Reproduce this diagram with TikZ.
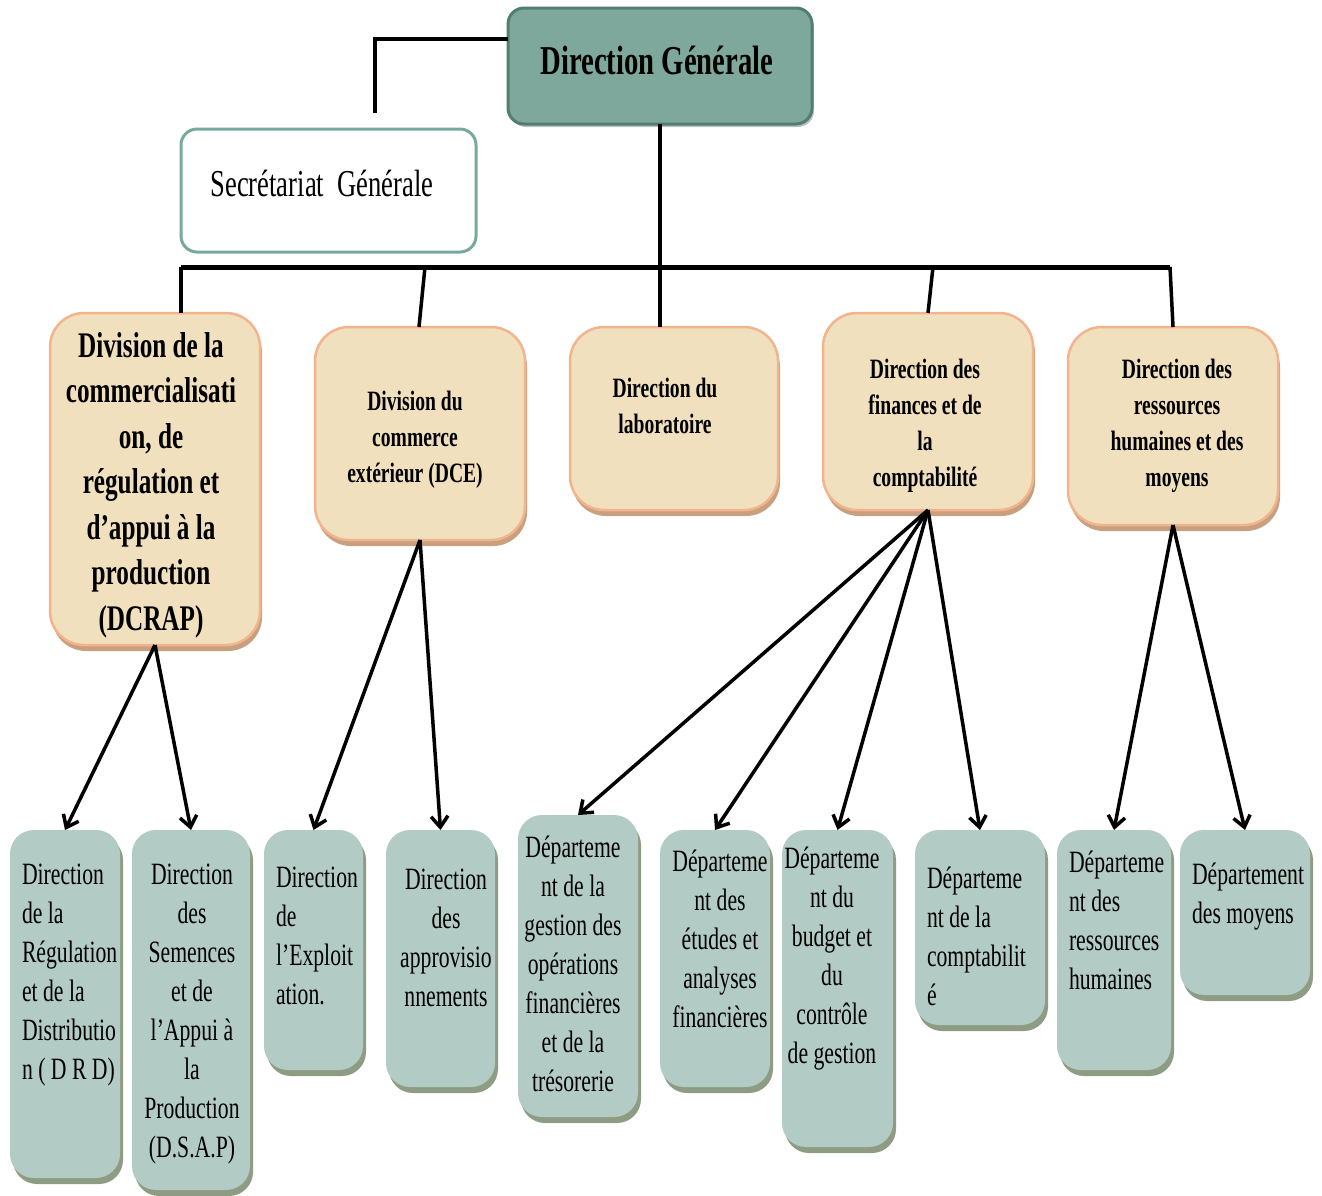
\documentclass[tikz,border=0pt]{standalone}
\usepackage{fontspec}
\setmainfont{Liberation Serif}[FakeStretch=0.7]
\usetikzlibrary{arrows.meta,shadows,calc}
\definecolor{dgfill}{HTML}{7EA89B}
\definecolor{dgline}{HTML}{507F72}
\definecolor{sgline}{HTML}{79A99C}
\definecolor{beige}{HTML}{F1E0BE}
\definecolor{peach}{HTML}{F2B48C}
\definecolor{beigeshadow}{HTML}{C8A07F}
\definecolor{sage}{HTML}{B2CBC4}
\definecolor{sageshadow}{HTML}{8E9C83}
\tikzset{
  base/.style={inner sep=0pt, outer sep=0pt},
  dgbox/.style={base, draw=dgline, line width=3pt, fill=dgfill, rounded corners=16pt,
    drop shadow={shadow xshift=2pt, shadow yshift=-3pt, fill=black, opacity=0.25}},
  sgbox/.style={base, draw=sgline, line width=3pt, fill=white, rounded corners=16pt},
  lvtwo/.style={base, draw=peach, line width=2.5pt, fill=beige, rounded corners=34pt,
    drop shadow={shadow xshift=2pt, shadow yshift=-6pt, fill=beigeshadow, opacity=1}},
  lvthree/.style={base, fill=sage, rounded corners=24pt,
    drop shadow={shadow xshift=3pt, shadow yshift=-6pt, fill=sageshadow, opacity=1}},
  dgtxt/.style={base, font=\bfseries\fontsize{41}{49}\selectfont},
  sgtxt/.style={base, font=\fontsize{38}{46}\selectfont},
  bigtxt/.style={base, align=center, font=\bfseries\fontsize{36}{45.5}\selectfont},
  midtxt/.style={base, align=center, font=\bfseries\fontsize{28}{36}\selectfont},
  smc/.style={base, align=center, font=\fontsize{31}{39}\selectfont},
  sml/.style={base, align=left, anchor=west, font=\fontsize{31}{39}\selectfont},
  conn/.style={line width=3.5pt, black},
  bus/.style={line width=5pt, black},
  arr/.style={line width=3.5pt, black, -{Straight Barb[length=11pt,width=17pt]}}
}
\begin{document}
\begin{tikzpicture}[x=1pt,y=-1pt]
\useasboundingbox (0,0) rectangle (1322,1195);
\fill[white] (0,0) rectangle (1322,1195);

% top level
\node[dgbox, minimum width=304pt, minimum height=116pt] (dg) at (660,66) {};
\node[dgtxt] (tdg) at (657,60) {Direction Générale};
\node[sgbox, minimum width=295pt, minimum height=123pt] (sg) at (328.5,190.5) {};
\node[sgtxt] (tsg) at (322,183) {Secrétariat~ Générale};

% level 2
\node[lvtwo, minimum width=210pt, minimum height=332pt] (dcrap) at (155,479) {};
\node[bigtxt] (tdcrap) at (151,485) {Division de la\\commercialisati\\on, de\\régulation et\\d’appui à la\\production\\(DCRAP)};
\node[lvtwo, minimum width=210pt, minimum height=213pt] (dce) at (420,433.5) {};
\node[midtxt] (tdce) at (415,440) {Division du\\commerce\\extérieur (DCE)};
\node[lvtwo, minimum width=208pt, minimum height=183pt] (labo) at (674,418.5) {};
\node[midtxt] (tlabo) at (665,406) {Direction du\\laboratoire};
\node[lvtwo, minimum width=210pt, minimum height=197pt] (fin) at (928,411.5) {};
\node[midtxt] (tfin) at (925,426) {Direction des\\finances et de\\la\\comptabilité};
\node[lvtwo, minimum width=210pt, minimum height=198pt] (rh) at (1173,426) {};
\node[midtxt] (trh) at (1177,426) {Direction des\\ressources\\humaines et des\\moyens};

% level 3
\node[lvthree, minimum width=110pt, minimum height=348pt] (drd) at (65,1004) {};
\node[sml] (tdrd) at (22,975) {Direction\\de la\\Régulation\\et de la\\Distributio\\n ( D R D)};
\node[lvthree, minimum width=118pt, minimum height=360pt] (dsap) at (191,1010) {};
\node[smc] (tdsap) at (192,1014) {Direction\\des\\Semences\\et de\\l’Appui à\\la\\Production\\(D.S.A.P)};
\node[lvthree, minimum width=99pt, minimum height=240pt] (expl) at (313.5,950) {};
\node[sml] (texpl) at (276,936) {Direction\\de\\l’Exploit\\ation.};
\node[lvthree, minimum width=109pt, minimum height=257pt] (appro) at (440.5,958.5) {};
\node[smc] (tappro) at (446,938) {Direction\\des\\approvisio\\nnements};
\node[lvthree, minimum width=120pt, minimum height=302pt] (gest) at (578,966) {};
\node[smc] (tgest) at (573,964) {Départeme\\nt de la\\gestion des\\opérations\\financières\\et de la\\trésorerie};
\node[lvthree, minimum width=110pt, minimum height=257pt] (etud) at (715,958.5) {};
\node[smc] (tetud) at (720,939) {Départeme\\nt des\\études et\\analyses\\financières};
\node[lvthree, minimum width=111pt, minimum height=317pt] (budg) at (837.5,988.5) {};
\node[smc] (tbudg) at (832,959) {Départeme\\nt du\\budget et\\du\\contrôle\\de gestion};
\node[lvthree, minimum width=130pt, minimum height=195pt] (compta) at (980,927.5) {};
\node[sml] (tcompta) at (927,936) {Départeme\\nt de la\\comptabilit\\é};
\node[lvthree, minimum width=114pt, minimum height=240pt] (drh) at (1114,950) {};
\node[sml] (tdrh) at (1069,920) {Départeme\\nt des\\ressources\\humaines};
\node[lvthree, minimum width=130pt, minimum height=165pt] (moy) at (1245,912.5) {};
\node[sml] (tmoy) at (1192,897) {Département\\des moyens};

% connectors top
\coordinate (sgtop) at (375,113);
\draw[conn] ([yshift=27pt]dg.west) -| (sgtop);
\coordinate (b1) at (181,267);
\coordinate (b2) at (425,267);
\coordinate (b3) at (660,267);
\coordinate (b4) at (933,267);
\coordinate (b5) at (1170,267);
\draw[bus] (b1) -- (b5);
\draw[conn] (dg.south) -- (b3) -- (b3 |- labo.north);
\draw[conn] (b1) -- (b1 |- dcrap.north);
\draw[conn] (b2) -- ([xshift=-1pt]dce.north);
\draw[conn] (b4) -- (fin.north);
\draw[conn] (b5) -- (rh.north);

% arrows
\draw[arr] (dcrap.south) -- (drd.north);
\draw[arr] (dcrap.south) -- (dsap.north);
\draw[arr] (dce.south) -- (expl.north);
\draw[arr] (dce.south) -- (appro.north);
\draw[arr] (fin.south) -- (gest.north);
\draw[arr] (fin.south) -- (etud.north);
\draw[arr] (fin.south) -- (budg.north);
\draw[arr] (fin.south) -- (compta.north);
\draw[arr] (rh.south) -- (drh.north);
\draw[arr] (rh.south) -- (moy.north);
\end{tikzpicture}
\end{document}
